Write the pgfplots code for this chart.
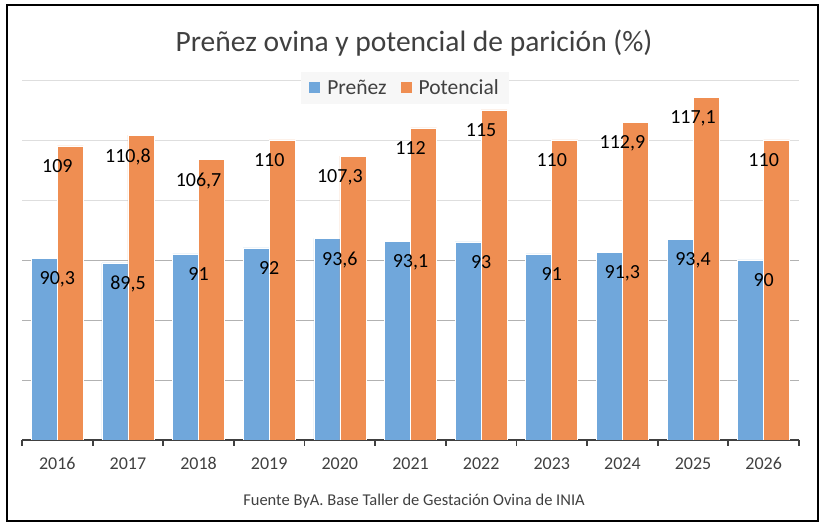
\documentclass[border=0pt]{standalone}
\usepackage{fontspec}
\setmainfont{Carlito}
\usepackage{pgfplots}
\pgfplotsset{compat=1.18}
\definecolor{cblue}{RGB}{112,167,219}
\definecolor{corange}{RGB}{239,142,82}
\definecolor{txt}{RGB}{64,64,64}
\definecolor{gridlight}{RGB}{222,222,222}
\definecolor{griddark}{RGB}{178,178,178}
\begin{document}
\begin{tikzpicture}[x=1pt,y=1pt]
\path[use as bounding box] (0,0) rectangle (822,527);
\draw[line width=1.5pt, black] (7,6) rectangle (818,522);
\node[anchor=base, font=\fontsize{29.5}{34}\selectfont, text=txt] at (414,475) {Preñez ovina y potencial de parición (\%)};
\node[anchor=base, font=\fontsize{16.5}{19}\selectfont, text=txt] at (414,21) {Fuente ByA. Base Taller de Gestación Ovina de INIA};
\begin{axis}[
  at={(22pt,87pt)}, anchor=south west,
  width=777pt, height=360pt, scale only axis,
  xmin=-0.5, xmax=10.5, ymin=60, ymax=120,
  axis x line*=bottom, axis y line*=left,
  y axis line style={draw=none},
  x axis line style={line width=2.5pt, color=txt},
  xtick={-0.5,0.5,1.5,2.5,3.5,4.5,5.5,6.5,7.5,8.5,9.5,10.5},
  x tick label as interval,
  xticklabels={2016,2017,2018,2019,2020,2021,2022,2023,2024,2025,2026},
  xtick style={draw=txt, line width=1.8pt},
  major tick length=6pt, tick align=outside,
  x tick label style={font=\fontsize{18}{20}\selectfont, text=txt, yshift=-8pt},
  ytick={100,110,120}, yticklabels={}, ytick style={draw=none},
  ymajorgrids, major grid style={draw=gridlight, line width=0.8pt},
  extra y ticks={70,80,90}, extra y tick labels={},
  extra y tick style={grid=major, major grid style={draw=griddark, line width=0.8pt}, ytick style={draw=none}},
  legend style={at={(0.493,0.978)}, anchor=center, fill=black!3, draw=none,
    legend columns=2, font=\fontsize{21.5}{24}\selectfont, text=txt,
    inner xsep=8pt, inner ysep=6pt,
    /tikz/every odd column/.append style={column sep=5pt},
    /tikz/every even column/.append style={column sep=12pt}},
  legend image code/.code={\fill[#1,draw=none] (0pt,-5.5pt) rectangle (11pt,5.5pt);},
  /pgf/number format/.cd, use comma, 1000 sep={}, assume math mode=true,
]
\addplot[ybar, bar width=26pt, bar shift=-13pt, fill=cblue, draw=white, line width=0.6pt]
  coordinates {(0,90.3) (1,89.5) (2,91) (3,92) (4,93.6) (5,93.1) (6,93) (7,91) (8,91.3) (9,93.4) (10,90)};
\addplot[ybar, bar width=26pt, bar shift=13pt, fill=corange, draw=white, line width=0.6pt]
  coordinates {(0,109) (1,110.8) (2,106.7) (3,110) (4,107.3) (5,112) (6,115) (7,110) (8,112.9) (9,117.1) (10,110)};
\legend{Preñez, Potencial}
\addplot[ybar, bar width=26pt, bar shift=-13pt, draw=none, fill=none, forget plot,
  nodes near coords, every node near coord/.append style={font=\fontsize{20}{22}\selectfont, text=black, anchor=north, inner sep=0pt, yshift=-13pt}]
  coordinates {(0,90.3) (1,89.5) (2,91) (3,92) (4,93.6) (5,93.1) (6,93) (7,91) (8,91.3) (9,93.4) (10,90)};
\addplot[ybar, bar width=26pt, bar shift=13pt, draw=none, fill=none, forget plot,
  nodes near coords, every node near coord/.append style={font=\fontsize{20}{22}\selectfont, text=black, anchor=north, inner sep=0pt, yshift=-13pt}]
  coordinates {(0,109) (1,110.8) (2,106.7) (3,110) (4,107.3) (5,112) (6,115) (7,110) (8,112.9) (9,117.1) (10,110)};
\end{axis}
\end{tikzpicture}
\end{document}
